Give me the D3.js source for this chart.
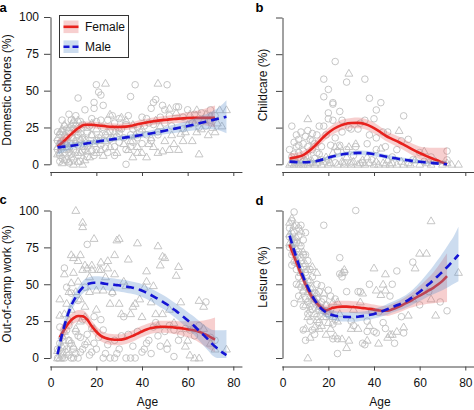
<!DOCTYPE html>
<html><head><meta charset="utf-8">
<script src="https://cdn.jsdelivr.net/npm/d3@7"></script>
<style>
body{margin:0;background:#fff;}
svg{display:block;font-family:"Liberation Sans",Arial,Helvetica,sans-serif;}
</style></head>
<body>
<svg id="c" width="474" height="410"></svg>
<script>
// ---------- DATA ----------
const xTicks = [0, 20, 40, 60, 80];
const yTicks = [0, 25, 50, 75, 100];
const legendLabels = ["Female", "Male"];
const panelLetters = ["a", "b", "c", "d"];
const yTitles = ["Domestic chores (%)", "Childcare (%)", "Out-of-camp work (%)", "Leisure (%)"];

// Panel a: domestic chores. points [age, %]
const choresF = [[3,16],[3,10],[3,22],[4,14],[4,6],[4,20],[4,2],[5,4],[5,12],[5,22],[5,30],[6,8],[6,15],[6,26],[6,19],[7,3],[7,18],[7,11],[7,24],[8,1],[8,22],[8,34],[8,8],[9,14],[9,18],[9,7],[9,30],[10,10],[10,24],[10,28],[10,3],[11,8],[11,33],[11,16],[11,26],[12,13],[12,45],[12,20],[12,6],[13,21],[13,2],[13,29],[14,27],[14,9],[14,18],[15,10],[15,37],[15,17],[16,22],[16,5],[16,12],[17,14],[17,26],[18,20],[18,31],[18,9],[19,38],[19,42],[19,6],[20,54],[20,10],[20,29],[20,16],[21,49],[21,18],[22,47],[22,13],[22,30],[23,40],[23,25],[24,20],[24,11],[25,30],[25,8],[26,22],[26,17],[27,33],[28,12],[28,28],[28,6],[29,19],[30,31],[30,15],[30,21],[31,24],[32,18],[33,27],[33,10],[33,0],[34,33],[35,46],[35,12],[35,20],[36,24],[36,15],[37,54],[38,25],[38,18],[39,22],[40,32],[40,14],[41,26],[42,31],[42,20],[43,28],[44,38],[44,16],[45,27],[45,42],[46,44],[47,22],[47,20],[48,32],[49,40],[50,37],[50,28],[51,54],[52,33],[53,26],[55,39],[56,39],[58,24],[58,32],[60,37],[62,28],[63,34],[65,25],[66,35],[68,26],[70,30],[70,37],[72,33]];
const choresM = [[3,18],[3,12],[3,7],[4,8],[4,22],[4,15],[5,24],[5,14],[5,1],[6,3],[6,27],[6,20],[7,10],[7,19],[7,14],[8,2],[8,12],[8,25],[9,27],[9,14],[9,5],[10,0],[10,30],[10,18],[11,15],[11,22],[12,2],[12,30],[12,24],[13,17],[13,8],[14,0],[14,12],[15,3],[15,16],[16,25],[16,9],[17,5],[18,28],[18,20],[19,14],[20,8],[20,24],[21,16],[22,20],[22,10],[23,6],[24,55],[24,16],[25,22],[26,12],[26,34],[27,18],[28,22],[29,8],[30,24],[31,32],[32,14],[33,30],[34,10],[35,16],[36,5],[36,27],[37,20],[38,12],[38,8],[40,8],[40,24],[42,5],[43,14],[44,18],[45,12],[46,30],[47,8],[47,55],[48,26],[49,9],[50,16],[52,10],[52,38],[53,20],[54,14],[55,35],[56,10],[57,21],[58,16],[59,22],[60,27],[61,34],[62,16],[63,28],[64,22],[64,37],[65,7],[66,24],[67,30],[68,34],[69,20],[70,33],[71,25],[72,22],[73,28],[74,37],[75,26],[77,37]];
// fits [age, fit, lower, upper]
const choresFitF = [[3,12,8,16.5],[6,16,13,19.5],[9,20.5,18,23],[12,24.5,22,27],[15,26.8,24.5,29],[18,26.8,24.5,29],[21,26.3,24,28.6],[24,25.8,23.5,28],[27,25.4,23,27.8],[30,25.3,23,27.6],[33,25.6,23.3,28],[36,26.4,24,28.8],[39,27.5,25,30],[42,28.4,26,31],[45,29.2,26.7,31.8],[48,29.8,27.2,32.5],[51,30.3,27.6,33],[54,30.8,28,33.7],[57,31.1,28,34.6],[60,31.4,28,35.3],[63,31.5,27.5,36],[66,31.5,27,37],[69,31.5,26,38.5],[72,31.5,25,40]];
const choresFitM = [[3,11.5,6.5,16.5],[6,12,8.5,15.5],[10,12.8,10.5,15],[15,14,12,16],[20,15.3,13.5,17],[25,16.5,15,18],[30,17.6,16,19.2],[35,18.7,17,20.4],[40,19.9,18,21.8],[45,21.3,19.2,23.4],[50,22.8,20.4,25.2],[55,24.4,21.5,27.3],[60,26,22.5,29.5],[65,27.8,23.5,32.2],[70,29.7,24,35.4],[74,31.2,23,39],[77,32.3,21,43.5]];

// Panel b: childcare
const careF = [[3,10],[4,26],[4,5],[5,15],[5,3],[5,7],[6,20],[6,12],[6,1],[7,17],[7,8],[7,13],[8,22],[8,3],[9,14],[9,9],[9,2],[10,19],[10,5],[11,23],[11,12],[11,6],[12,1],[12,17],[13,10],[13,21],[13,16],[14,4],[14,14],[15,8],[15,20],[16,7],[16,26],[17,12],[17,3],[18,46],[18,26],[18,58],[19,20],[20,51],[20,35],[20,31],[20,3],[21,13],[22,41],[22,30],[22,42],[23,18],[23,70],[23,1],[24,9],[25,36],[25,13],[26,30],[26,22],[27,1],[28,10],[28,56],[29,25],[30,24],[30,1],[31,6],[32,12],[33,24],[34,28],[35,1],[36,30],[36,58],[37,14],[38,45],[38,20],[39,3],[40,31],[41,37],[41,18],[41,10],[43,42],[44,22],[45,12],[46,22],[48,5],[50,10],[52,16],[53,33],[55,17],[57,3],[60,8],[62,2],[65,5],[72,9],[72,3]];
const careM = [[3,0],[4,1],[5,0],[6,2],[7,0],[8,1],[9,0],[10,3],[11,31],[11,0],[12,1],[13,2],[14,0],[15,1],[16,3],[17,0],[18,2],[19,5],[20,0],[21,1],[22,8],[23,12],[24,0],[25,12],[26,2],[27,0],[28,5],[29,62],[29,12],[30,0],[31,2],[32,14],[33,0],[34,1],[35,3],[36,0],[37,5],[38,1],[40,0],[41,2],[42,0],[43,11],[44,1],[45,0],[46,3],[47,0],[48,1],[50,0],[51,23],[52,2],[53,0],[55,1],[56,0],[58,3],[60,0],[62,9],[63,1],[65,0],[67,2],[70,0],[72,1],[74,0],[77,0]];
const careFitF = [[3,4,1,7.5],[6,4.8,2,7.8],[9,6.3,3.5,9.2],[12,9.5,6.8,12.3],[15,14,11,17],[18,18.8,15.6,22],[21,22.7,19.3,26],[24,25.5,22,29],[27,27.3,23.8,30.8],[30,28.1,24.6,31.6],[33,28.2,24.6,31.8],[36,27.4,23.8,31],[39,25.5,21.9,29.1],[42,22.8,19.2,26.4],[45,19.5,16,23],[48,17.2,13.6,20.8],[51,15,11.3,18.7],[54,12.5,8.7,16.3],[57,10,6,14],[60,7.7,3.5,12.2],[63,5.6,1.5,11.5],[66,3.7,0,11.2],[69,1.8,0,11.2],[72,0,0,11.5]];
const careFitM = [[3,1.8,0.5,3.1],[6,1.5,0.5,2.6],[9,1.4,0.4,2.4],[12,1.6,0.6,2.6],[15,2.3,1.2,3.4],[18,3.5,2.3,4.7],[21,4.9,3.6,6.2],[24,6.1,4.7,7.5],[27,7,5.5,8.5],[30,7.5,6,9],[33,7.8,6.2,9.4],[36,7.7,6.1,9.3],[39,7.2,5.6,8.8],[42,6.3,4.8,7.8],[45,5.3,3.8,6.8],[48,4.4,3,5.8],[51,3.6,2.2,5],[54,2.9,1.5,4.3],[57,2.3,0.9,3.7],[60,1.7,0.3,3.1],[63,1.2,0,2.6],[66,0.8,0,2.3],[69,0.4,0,2.2],[72,0,0,2.2]];

// Panel c: out-of-camp work
const workF = [[3,0],[3,6],[4,21],[4,10],[5,14],[5,3],[5,0],[6,61],[6,0],[6,8],[7,48],[7,19],[7,6],[8,12],[8,2],[8,22],[9,44],[9,10],[9,0],[10,0],[10,6],[11,18],[11,3],[12,15],[12,39],[12,0],[13,14],[13,4],[14,26],[14,6],[15,48],[15,9],[16,77],[16,16],[17,2],[18,20],[18,4],[19,10],[19,28],[20,6],[21,14],[22,26],[23,19],[23,0],[24,3],[25,9],[26,0],[27,44],[28,12],[28,0],[29,3],[30,6],[31,15],[32,28],[33,0],[34,16],[35,0],[36,8],[37,0],[38,18],[40,4],[41,6],[42,10],[43,12],[44,3],[45,21],[46,24],[47,15],[48,8],[50,18],[51,6],[52,22],[54,19],[54,1],[56,12],[57,16],[59,20],[61,19],[63,15],[65,22],[68,38],[70,14],[72,12]];
const workM = [[3,0],[3,5],[4,29],[4,40],[4,0],[5,2],[5,8],[5,15],[6,30],[6,57],[6,18],[7,37],[7,4],[8,45],[8,12],[8,26],[9,51],[9,70],[9,33],[10,58],[10,68],[10,8],[11,100],[11,45],[11,20],[12,52],[12,66],[13,70],[13,25],[13,40],[14,89],[14,60],[14,92],[15,63],[15,35],[15,28],[16,61],[16,11],[17,55],[17,45],[18,63],[18,60],[19,81],[19,20],[20,33],[20,46],[21,60],[22,60],[22,65],[23,46],[24,55],[25,66],[25,61],[26,37],[27,45],[28,70],[28,57],[29,80],[30,81],[30,37],[31,30],[32,52],[33,49],[34,67],[35,30],[36,35],[37,37],[38,78],[39,40],[40,28],[41,48],[42,59],[42,52],[44,38],[45,49],[46,30],[47,76],[47,22],[48,63],[49,69],[49,30],[50,68],[51,10],[52,33],[54,24],[55,56],[56,62],[57,38],[59,8],[60,12],[61,2],[62,20],[63,0],[65,39],[65,0],[67,35],[67,20],[70,10],[72,6],[77,6]];
const workFitF = [[4,14,8,20],[6,19.5,14.5,24.5],[8,24,19.5,28.5],[10,27,23,31],[12,28.5,24.5,32.5],[14,28.3,24.2,32.3],[16,26,22,30],[18,21.5,17.6,25.4],[20,17.8,14,21.6],[22,15,11.3,18.7],[24,13.5,9.8,17.2],[26,12.7,9,16.4],[28,12.4,8.7,16.1],[30,12.4,8.7,16.1],[32,12.8,9.1,16.5],[34,13.8,10,17.6],[36,15,11.2,18.8],[38,16.5,12.7,20.3],[40,18,14.2,21.8],[42,19.3,15.5,23.1],[44,20.3,16.5,24.1],[46,20.9,17,24.8],[48,21.2,17.2,25.2],[50,21.2,17.1,25.3],[52,21,16.8,25.2],[54,20.7,16.3,25.1],[56,20.4,15.8,25],[58,20,15,25],[60,19.5,14,25],[62,19,13,25],[64,18.3,11.5,25.1],[66,17.2,9.5,25.3],[68,15.8,7.5,25.8],[70,14.2,5.5,26.5],[72,12.5,4,27.5]];
const workFitM = [[3,2.5,0,8],[5,16,11,21],[7,27,22.5,31.5],[9,35.5,31.5,39.5],[11,41.5,37.5,45.5],[13,46,42,50],[15,49,45,53.5],[17,50.5,46,55],[19,51,46.5,55.5],[21,51,46.5,55.5],[23,50.6,46.2,55],[25,50.1,45.8,54.4],[27,49.8,45.6,54],[29,49.4,45.2,53.6],[31,49,44.8,53.2],[33,48.5,44.3,52.7],[35,47.9,43.7,52.1],[37,47.2,43,51.4],[39,46.3,42,50.6],[41,45,40.7,49.3],[43,43.5,39.2,47.8],[45,41.8,37.4,46.2],[47,40,35.5,44.5],[49,38.2,33.6,42.8],[51,36.3,31.6,41],[53,34,29.2,38.8],[55,31.8,26.8,36.8],[57,29.3,24.1,34.5],[59,26.8,21.3,32.3],[61,24.2,18.4,30],[63,21.5,15.2,27.8],[65,18.5,11.8,25.2],[67,15.5,8.3,22.7],[69,12.5,5,20.5],[71,9.2,1.5,19],[73,6.5,0,18.8],[75,4,0,18.8],[77,2,0,19]];

// Panel d: leisure
const leisureF = [[3,75],[3,88],[3,82],[4,70],[4,93],[4,80],[4,63],[5,99],[5,65],[5,37],[5,85],[5,78],[6,78],[6,90],[6,60],[6,70],[6,50],[7,72],[7,88],[7,55],[7,83],[7,42],[8,68],[8,76],[8,48],[8,90],[8,60],[9,62],[9,45],[9,19],[9,80],[9,70],[9,35],[10,58],[10,70],[10,12],[10,40],[10,85],[10,48],[11,52],[11,66],[11,30],[11,38],[12,47],[12,60],[12,35],[12,25],[13,19],[13,43],[13,55],[13,33],[14,16],[14,38],[14,44],[15,50],[15,28],[15,40],[16,45],[16,33],[16,24],[17,49],[17,38],[18,90],[18,40],[19,36],[19,28],[20,46],[20,30],[21,42],[21,33],[22,23],[22,13],[23,40],[23,26],[24,3],[24,13],[25,68],[25,57],[26,55],[27,58],[28,45],[30,25],[31,22],[32,100],[33,45],[34,45],[35,10],[36,9],[37,25],[37,18],[38,50],[39,32],[40,18],[41,17],[42,31],[44,24],[45,20],[47,42],[48,50],[49,10],[50,59],[52,28],[53,17],[57,65],[60,36],[64,45],[69,38],[72,32]];
const leisureM = [[3,84],[3,92],[3,78],[4,86],[4,77],[4,95],[5,90],[5,72],[5,80],[6,82],[6,66],[6,74],[7,64],[7,78],[7,50],[8,58],[8,86],[8,66],[8,40],[9,54],[9,72],[9,46],[10,50],[10,64],[10,20],[10,36],[11,45],[11,60],[11,0],[11,28],[12,42],[12,53],[12,14],[12,33],[13,40],[13,62],[13,48],[14,30],[14,21],[14,40],[15,26],[15,58],[15,44],[16,20],[16,35],[17,32],[17,22],[18,28],[18,44],[19,16],[19,36],[20,30],[20,24],[21,20],[22,38],[22,28],[23,15],[24,38],[24,25],[25,30],[26,58],[26,13],[27,60],[28,7],[29,12],[30,20],[31,33],[33,20],[34,38],[35,44],[37,12],[38,22],[40,61],[41,46],[42,10],[43,43],[44,50],[45,46],[45,57],[46,14],[47,16],[48,16],[50,18],[53,21],[55,29],[57,40],[58,61],[60,71],[63,71],[65,93],[65,40],[67,29],[77,58]];
const leisureFitF = [[3,77,72,82],[5,69,65,73],[7,61,57.5,64.5],[9,53.5,50.5,56.5],[11,46.5,43.5,49.5],[13,41,38,44],[15,37,34,40],[17,34,31,37],[19,32.3,29,35.6],[20,32.8,29.3,36.3],[22,34,30.2,37.8],[24,34.6,30.6,38.6],[26,34.8,30.8,38.8],[28,34.8,30.8,38.8],[30,34.6,30.6,38.6],[32,34.4,30.4,38.4],[34,34.1,30.2,38],[36,33.7,30,37.4],[38,33.3,29.8,36.8],[40,32.8,29.4,36.2],[42,32.3,29,35.6],[44,32,28.6,35.4],[46,32,28.5,35.5],[48,33,29.3,36.7],[50,34.2,30.3,38.1],[52,35.6,31.5,39.7],[54,37.2,32.8,41.6],[56,38.8,34,43.6],[58,40.6,35,46],[60,42.3,35.8,48.8],[62,44,36.3,51.7],[64,45.8,36.8,54.8],[66,47.6,37.2,58],[68,49.8,37.5,62],[70,52.3,37.8,66.5],[72,55.5,38,71]];
const leisureFitM = [[3,83,77,89],[5,73,68,78],[7,63.5,59.5,67.5],[9,55,51.5,58.5],[11,48,44.7,51.3],[13,42,38.8,45.2],[15,37,33.8,40.2],[17,33.3,30,36.6],[19,31,27.7,34.3],[21,29.5,26.2,32.8],[23,28.6,25.3,31.9],[25,28.2,25,31.4],[27,27.9,24.7,31.1],[29,27.8,24.6,31],[31,27.8,24.6,31],[33,28,24.8,31.2],[35,28.4,25.2,31.6],[37,28.9,25.7,32.1],[39,29.5,26.3,32.7],[41,30.4,27.1,33.7],[43,31.4,28,34.8],[45,32.5,29,36],[47,33.8,30.2,37.4],[49,35.1,31.4,38.8],[51,36.3,32.4,40.2],[53,37.6,33.4,41.8],[55,39.3,34.7,43.9],[57,41.4,36.3,46.5],[59,43.7,37.9,49.5],[61,46.1,39.4,52.8],[63,48.8,41,56.6],[65,51.4,42.5,60.3],[67,54.2,43.9,64.5],[69,57,45.3,68.7],[71,60,46.8,73.2],[73,63.2,48.5,77.9],[75,66.5,50.3,82.7],[77,70,52,89]];

// ---------- DRAW ----------
const svg = d3.select("#c");
const grey = "#bfbfbf";
const redC = "#e8211d", blueC = "#1414d4";
const pinkBand = "rgba(228,96,96,0.30)", blueBand = "rgba(95,145,205,0.32)";

const panels = [
  {fP: choresF, mP: choresM, fF: choresFitF, mF: choresFitM, x0: 50.7, x80: 233.3, y0: 164.3, y100: 17, axY: 172, yAx: 50.5, xLab: false, yLab: true, tX: 10.5, tY: 90, lX: -0.5, lY: 11.5, ageX: null},
  {fP: careF, mP: careM, fF: careFitF, mF: careFitM, x0: 282.7, x80: 465.3, y0: 164.3, y100: 17.5, axY: 172, yAx: 282.5, xLab: false, yLab: false, tX: 267, tY: 85, lX: 255.5, lY: 11.5, ageX: null},
  {fP: workF, mP: workM, fF: workFitF, mF: workFitM, x0: 50.7, x80: 233.3, y0: 358, y100: 210.5, axY: 366.5, yAx: 50.5, xLab: true, yLab: true, tX: 10.5, tY: 284, lX: -0.5, lY: 203.5, ageX: 147.5},
  {fP: leisureF, mP: leisureM, fF: leisureFitF, mF: leisureFitM, x0: 282.7, x80: 465.3, y0: 358, y100: 210.5, axY: 366.5, yAx: 282.5, xLab: true, yLab: false, tX: 267, tY: 277, lX: 255.5, lY: 204.5, ageX: 380}
];

const tri = d3.symbol(d3.symbolTriangle, 27);

panels.forEach((p, i) => {
  const x = d3.scaleLinear().domain([0, 80]).range([p.x0, p.x80]);
  const y = d3.scaleLinear().domain([0, 100]).range([p.y0, p.y100]);
  const g = svg.append("g");

  // points
  g.append("g").selectAll("circle").data(p.fP).join("circle")
    .attr("cx", d => x(d[0])).attr("cy", d => y(d[1])).attr("r", 3.3)
    .attr("fill", "none").attr("stroke", grey).attr("stroke-width", 0.9);
  g.append("g").selectAll("path").data(p.mP).join("path")
    .attr("d", tri).attr("transform", d => `translate(${x(d[0])},${y(d[1]) + 0.6})`)
    .attr("fill", "none").attr("stroke", grey).attr("stroke-width", 0.9);

  const area = d3.area().x(d => x(d[0])).y0(d => y(d[2])).y1(d => y(d[3])).curve(d3.curveMonotoneX);
  const line = d3.line().x(d => x(d[0])).y(d => y(d[1])).curve(d3.curveMonotoneX);

  g.append("path").attr("d", area(p.fF)).attr("fill", pinkBand);
  g.append("path").attr("d", line(p.fF)).attr("fill", "none").attr("stroke", redC).attr("stroke-width", 2.6);
  g.append("path").attr("d", area(p.mF)).attr("fill", blueBand);
  g.append("path").attr("d", line(p.mF)).attr("fill", "none").attr("stroke", blueC).attr("stroke-width", 2.6)
    .attr("stroke-dasharray", "8,5");

  // axes
  const yA = g.append("g").attr("transform", `translate(${p.yAx},0)`)
    .call(d3.axisLeft(y).tickValues(yTicks).tickSize(6.5).tickSizeOuter(0).tickPadding(5)
      .tickFormat(p.yLab ? d3.format("d") : () => ""));
  const xA = g.append("g").attr("transform", `translate(0,${p.axY})`)
    .call(d3.axisBottom(x).tickValues(xTicks).tickSize(4).tickSizeOuter(0).tickPadding(7.5)
      .tickFormat(p.xLab ? d3.format("d") : () => ""));
  xA.select(".domain").remove();
  xA.append("line").attr("x1", x(0) - 0.5).attr("x2", x(84)).attr("y1", 0.5).attr("y2", 0.5)
    .attr("stroke", "#444").attr("stroke-width", 1);
  [yA, xA].forEach(a => {
    a.selectAll(".domain, .tick line").attr("stroke", "#444");
    a.selectAll("text").attr("font-size", 12).attr("fill", "#111")
      .attr("font-family", '"Liberation Sans",Arial,sans-serif');
  });

  // titles
  g.append("text").attr("transform", `translate(${p.tX},${p.tY}) rotate(-90)`)
    .attr("text-anchor", "middle").attr("font-size", 12).attr("fill", "#111").text(yTitles[i]);
  g.append("text").attr("x", p.lX).attr("y", p.lY).attr("font-size", 13).attr("font-weight", "bold")
    .attr("fill", "#000").text(panelLetters[i]);
  if (p.ageX !== null) {
    g.append("text").attr("x", p.ageX).attr("y", 405.5).attr("text-anchor", "middle")
      .attr("font-size", 12).attr("fill", "#111").text("Age");
  }
});

// legend (panel a)
const lg = svg.append("g");
lg.append("rect").attr("x", 59.5).attr("y", 15.5).attr("width", 69).attr("height", 42)
  .attr("fill", "#fff").attr("stroke", "#333").attr("stroke-width", 1);
const legRows = [
  {band: pinkBand, col: redC, dash: null, yc: 26.8},
  {band: blueBand, col: blueC, dash: "6,3", yc: 46.7}
];
legRows.forEach((r, k) => {
  lg.append("rect").attr("x", 63.5).attr("y", r.yc - 6.3).attr("width", 15).attr("height", 12.6).attr("fill", r.band);
  const ln = lg.append("line").attr("x1", 63.5).attr("x2", 78.5).attr("y1", r.yc).attr("y2", r.yc)
    .attr("stroke", r.col).attr("stroke-width", 2.6);
  if (r.dash) ln.attr("stroke-dasharray", r.dash);
  lg.append("text").attr("x", 85).attr("y", r.yc + 4.3).attr("font-size", 12).attr("fill", "#111").text(legendLabels[k]);
});
</script>
</body></html>
